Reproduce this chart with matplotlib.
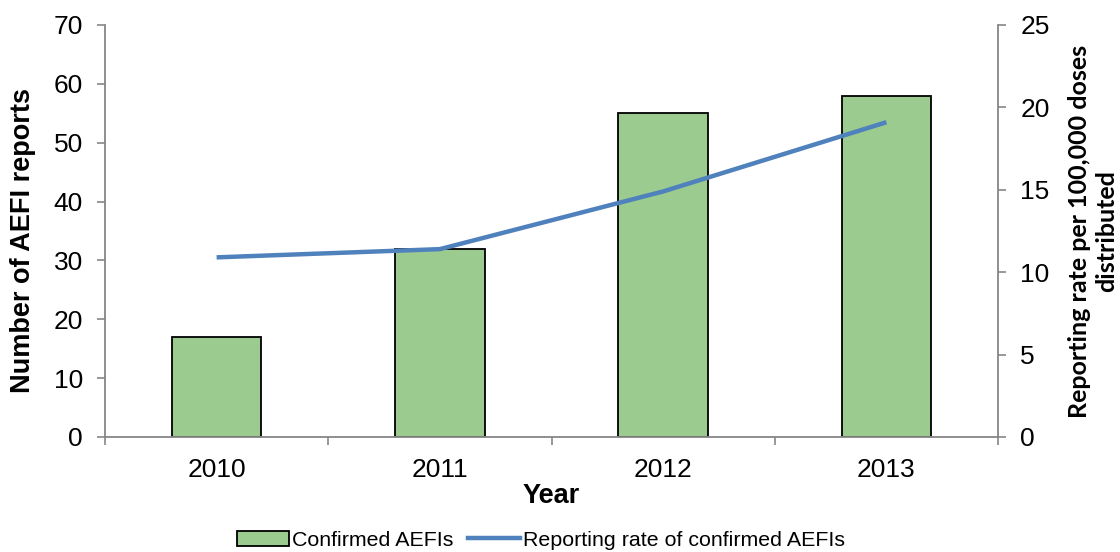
import matplotlib
matplotlib.use("Agg")
import matplotlib.pyplot as plt
import numpy as np
from matplotlib.lines import Line2D
from matplotlib.patches import Patch

years = ["2010", "2011", "2012", "2013"]
confirmed = [17, 32, 55, 58]
rate = [10.9, 11.4, 14.9, 19.1]

bar_color = "#9BCB8F"
line_color = "#4F81BD"
grey = "#868686"

plt.rcParams['font.family'] = ['Liberation Sans', 'DejaVu Sans']

fig = plt.figure(figsize=(11.2, 5.52), dpi=100)
ax = fig.add_axes([105/1120, 1-437/552, (998-105)/1120, (437-25)/552])
x = np.arange(len(years))
ax.bar(x, confirmed, width=0.4, color=bar_color, edgecolor="black", linewidth=1.3, zorder=2)
ax.set_xlim(-0.5, 3.5)
ax.set_ylim(0, 70)
ax.set_yticks(range(0, 71, 10))
ax.set_xticks(x)
ax.set_xticklabels(years)
ax.set_xticks(np.arange(-0.5, 4, 1), minor=True)
ax.tick_params(axis='x', which='major', length=0, labelsize=19, pad=15)
ax.tick_params(axis='x', which='minor', length=6, width=1.2, color=grey, direction='out')
ax.tick_params(axis='y', length=6, width=1.2, color=grey, labelsize=19, pad=10)
for s in ['top', 'right']:
    ax.spines[s].set_visible(False)
for s in ['left', 'bottom']:
    ax.spines[s].set_color(grey)
    ax.spines[s].set_linewidth(1.3)
ax.set_ylabel("Number of AEFI reports", fontsize=19.5, fontweight='bold')
ax.yaxis.set_label_coords(-69/893, 0.476)
ax.set_xlabel("Year", fontsize=19.5, fontweight='bold', labelpad=1)

ax2 = ax.twinx()
ax2.plot(x, rate, color=line_color, linewidth=3.2, solid_capstyle='butt')
ax2.set_ylim(0, 25)
ax2.set_yticks(range(0, 26, 5))
ax2.tick_params(axis='y', length=6, width=1.2, color=grey, labelsize=19, pad=10)
for s in ['top', 'left', 'bottom']:
    ax2.spines[s].set_visible(False)
ax2.spines['right'].set_color(grey)
ax2.spines['right'].set_linewidth(1.3)
ax2.set_ylabel("Reporting rate per 100,000 doses\ndistributed", fontsize=18, fontweight='bold',
               family=['Lato', 'DejaVu Sans'], rotation=90, linespacing=1.2)
ax2.yaxis.set_label_coords(1 + 70/893, 0.5)

handles = [Patch(facecolor=bar_color, edgecolor="black", linewidth=1.3, label="Confirmed AEFIs"),
           Line2D([0], [0], color=line_color, linewidth=3.2, label="Reporting rate of confirmed AEFIs")]
fig.legend(handles=handles, loc='center', bbox_to_anchor=(541/1120, 1-540/552), ncol=2,
           frameon=False, fontsize=15.4, handlelength=2.4, handletextpad=0.15, columnspacing=0.7)

fig.savefig("out.png", dpi=100)
